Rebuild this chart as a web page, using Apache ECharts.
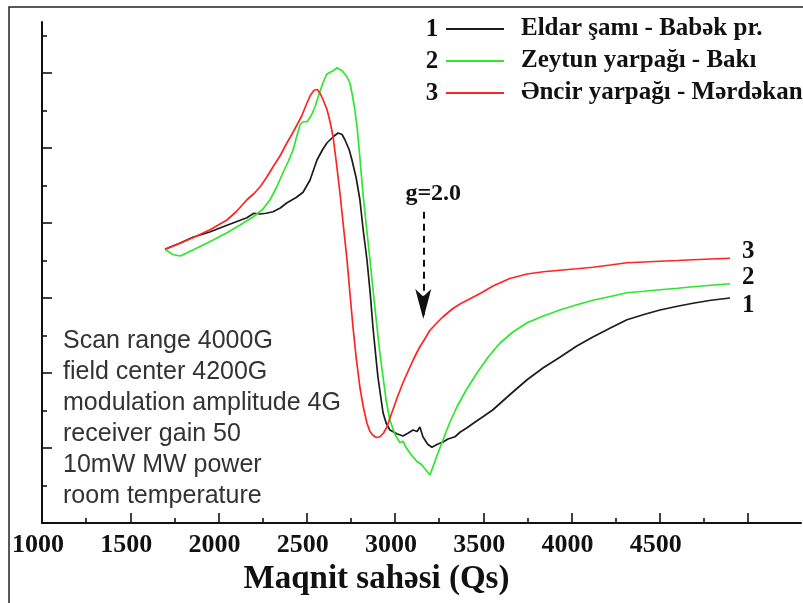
<!DOCTYPE html>
<html>
<head>
<meta charset="utf-8">
<script src="https://cdn.jsdelivr.net/npm/echarts@6/dist/echarts.min.js"></script>
<style>
  html, body { margin: 0; padding: 0; background: #fff; }
  #chart { width: 803px; height: 603px; }
</style>
</head>
<body>
<div id="chart"></div>
<script>
// EPR spectra: magnetic field (Qs) vs. signal (arbitrary units)
const seriesNames = ['Eldar şamı - Babək pr.', 'Zeytun yarpağı - Bakı', 'Əncir yarpağı - Mərdəkan'];
const seriesNumbers = ['1', '2', '3'];
const seriesColors = ['#1c1c1c', '#2ee62e', '#ff2424'];

// 1 - Eldar şamı
const eldarSami = [
  [1697, 3.65], [1780, 3.73], [1855, 3.81], [1950, 3.88], [2048, 3.97], [2161, 4.07], [2200, 4.13],
  [2235, 4.12], [2270, 4.13], [2309, 4.15], [2350, 4.20], [2388, 4.27], [2440, 4.34], [2479, 4.41],
  [2518, 4.57], [2558, 4.84], [2590, 4.98], [2615, 5.07], [2650, 5.15], [2677, 5.20], [2700, 5.18],
  [2716, 5.11], [2740, 4.98], [2756, 4.84], [2780, 4.60], [2801, 4.31], [2820, 3.90], [2841, 3.51],
  [2860, 3.05], [2875, 2.61], [2890, 2.25], [2903, 1.95], [2918, 1.70], [2932, 1.47], [2950, 1.33],
  [2971, 1.24], [3010, 1.19], [3045, 1.16], [3075, 1.20], [3102, 1.24], [3125, 1.22], [3141, 1.28],
  [3158, 1.15], [3185, 1.05], [3209, 1.01], [3240, 1.05], [3272, 1.08], [3300, 1.12], [3340, 1.15],
  [3368, 1.21], [3408, 1.27], [3450, 1.34], [3500, 1.42], [3555, 1.51], [3650, 1.71], [3748, 1.91],
  [3840, 2.07], [3934, 2.21], [4030, 2.36], [4121, 2.48], [4220, 2.60], [4314, 2.71], [4410, 2.78],
  [4501, 2.84], [4600, 2.89], [4688, 2.93], [4790, 2.97], [4898, 3.00]
];

// 2 - Zeytun yarpağı
const zeytunYarpagi = [
  [1697, 3.65], [1740, 3.58], [1782, 3.56], [1820, 3.60], [1855, 3.64], [1950, 3.75], [2048, 3.87],
  [2120, 3.97], [2195, 4.08], [2250, 4.18], [2292, 4.31], [2330, 4.48], [2365, 4.67], [2395, 4.82],
  [2422, 4.97], [2445, 5.17], [2462, 5.31], [2480, 5.35], [2501, 5.35], [2525, 5.43], [2547, 5.55],
  [2570, 5.72], [2592, 5.87], [2612, 5.98], [2632, 6.01], [2650, 6.03], [2671, 6.07], [2700, 6.03],
  [2728, 5.95], [2745, 5.86], [2756, 5.73], [2770, 5.55], [2785, 5.28], [2800, 4.90], [2818, 4.40],
  [2838, 3.95], [2858, 3.51], [2878, 3.05], [2898, 2.61], [2915, 2.25], [2932, 1.95], [2950, 1.63],
  [2971, 1.37], [3000, 1.18], [3028, 1.07], [3045, 1.09], [3062, 1.01], [3085, 0.93], [3110, 0.86],
  [3124, 0.82], [3150, 0.78], [3170, 0.72], [3198, 0.64], [3235, 0.88], [3272, 1.11], [3310, 1.34],
  [3351, 1.55], [3400, 1.76], [3464, 2.00], [3530, 2.22], [3595, 2.40], [3670, 2.55], [3748, 2.67],
  [3840, 2.76], [3934, 2.84], [4030, 2.91], [4121, 2.97], [4220, 3.02], [4314, 3.07], [4410, 3.09],
  [4501, 3.11], [4600, 3.13], [4688, 3.15], [4790, 3.17], [4898, 3.19]
];

// 3 - Əncir yarpağı
const encirYarpagi = [
  [1697, 3.65], [1782, 3.73], [1870, 3.82], [1952, 3.91], [2048, 4.04], [2100, 4.15], [2161, 4.31],
  [2200, 4.39], [2235, 4.48], [2270, 4.60], [2309, 4.75], [2350, 4.90], [2388, 5.07], [2420, 5.20],
  [2445, 5.31], [2470, 5.42], [2501, 5.60], [2520, 5.70], [2541, 5.77], [2560, 5.78], [2575, 5.73],
  [2595, 5.63], [2615, 5.51], [2632, 5.35], [2649, 5.15], [2668, 4.80], [2688, 4.40], [2708, 3.95],
  [2728, 3.51], [2745, 3.05], [2762, 2.61], [2780, 2.20], [2801, 1.81], [2820, 1.55], [2841, 1.33],
  [2858, 1.22], [2875, 1.17], [2895, 1.14], [2915, 1.15], [2935, 1.20], [2954, 1.28], [2970, 1.39],
  [2988, 1.51], [3015, 1.69], [3045, 1.87], [3075, 2.03], [3102, 2.17], [3125, 2.28], [3141, 2.35],
  [3152, 2.33], [3165, 2.44], [3198, 2.57], [3238, 2.67], [3272, 2.75], [3328, 2.86], [3368, 2.92],
  [3425, 2.99], [3490, 3.07], [3555, 3.16], [3650, 3.26], [3748, 3.32], [3840, 3.35], [3934, 3.37],
  [4030, 3.39], [4121, 3.41], [4220, 3.44], [4314, 3.47], [4410, 3.48], [4501, 3.49], [4600, 3.50],
  [4688, 3.51], [4790, 3.52], [4898, 3.53]
];

const xTickLabels = [1000, 1500, 2000, 2500, 3000, 3500, 4000, 4500];
const xMajorTicks = [1000, 1500, 2000, 2500, 3000, 3500, 4000, 4500, 5000];
const xMinorTicks = [1250, 1750, 2250, 2750, 3250, 3750, 4250, 4750];
const yMajorTicks = [0, 1, 2, 3, 4, 5, 6];
const yMinorTicks = [0.5, 1.5, 2.5, 3.5, 4.5, 5.5, 6.5];

// g-factor marker
const gLabel = 'g=2.0';
const gField = 3160;
const gArrowFrom = 4.15;
const gArrowTo = 2.72;

// measurement conditions
const conditions = [
  'Scan range 4000G',
  'field center 4200G',
  'modulation amplitude 4G',
  'receiver gain 50',
  '10mW MW power',
  'room temperature'
];

const serif = 'Liberation Serif';
const sans = 'Liberation Sans';
const ink = '#111';

const endLabelOffsets = [[0, 8], [0, -6], [0, -7]];

function makeSeries(i, data) {
  return {
    name: seriesNames[i],
    type: 'line',
    xAxisIndex: 0,
    yAxisIndex: 0,
    data: data,
    symbol: 'none',
    legendIcon: 'rect',
    smooth: false,
    lineStyle: { color: seriesColors[i], width: 1.7 },
    itemStyle: { color: seriesColors[i] },
    endLabel: {
      show: true,
      formatter: seriesNumbers[i],
      distance: 12,
      offset: endLabelOffsets[i],
      fontFamily: serif,
      fontWeight: 'bold',
      fontSize: 25,
      color: ink
    }
  };
}

const series = [
  makeSeries(0, eldarSami),
  makeSeries(1, zeytunYarpagi),
  makeSeries(2, encirYarpagi)
];

// dashed arrow pointing at g=2.0
series[2].markLine = {
  silent: true,
  symbol: ['none', 'arrow'],
  symbolSize: [12, 30],
  lineStyle: { color: ink, type: [7, 5], width: 2 },
  label: {
    show: true,
    position: 'start',
    formatter: gLabel,
    distance: 6,
    padding: [0, 0, 0, 20],
    fontFamily: serif,
    fontWeight: 'bold',
    fontSize: 24,
    color: ink
  },
  data: [[{ coord: [gField, gArrowFrom] }, { coord: [gField, gArrowTo] }]]
};

const gridBox = { left: 42, right: 2, top: 22, bottom: 80 };
const xRange = { min: 1000, max: 5300 };
const yRange = { min: 0, max: 6.68 };
const tickLine = { color: ink, width: 1.6 };

const chart = echarts.init(document.getElementById('chart'), null, { renderer: 'canvas' });

const option = {
  backgroundColor: '#ffffff',
  animation: false,
  grid: [
    Object.assign({}, gridBox),   // plotting area, major ticks
    Object.assign({}, gridBox)    // same box, minor ticks only
  ],
  xAxis: [
    {
      type: 'value', gridIndex: 0, min: xRange.min, max: xRange.max, interval: 500,
      axisLine: { show: true, lineStyle: { color: ink, width: 2 } },
      axisTick: { show: true, inside: true, length: 10, customValues: xMajorTicks, lineStyle: tickLine },
      splitLine: { show: false },
      axisLabel: {
        show: true,
        showMaxLabel: false,
        margin: 9,
        padding: [0, 8, 0, 0],
        fontFamily: serif,
        fontWeight: 'bold',
        fontSize: 26,
        color: ink,
        formatter: function (v) { return xTickLabels.indexOf(v) >= 0 ? String(v) : ''; }
      },
      name: 'Maqnit sahəsi (Qs)',
      nameLocation: 'middle',
      nameGap: 36,
      nameTextStyle: {
        fontFamily: serif, fontWeight: 'bold', fontSize: 33, color: ink,
        padding: [0, 90, 0, 0]
      }
    },
    {
      type: 'value', gridIndex: 1, min: xRange.min, max: xRange.max, interval: 500,
      axisLine: { show: false },
      axisTick: { show: true, inside: true, length: 5, customValues: xMinorTicks, lineStyle: tickLine },
      axisLabel: { show: false },
      splitLine: { show: false }
    }
  ],
  yAxis: [
    {
      type: 'value', gridIndex: 0, min: yRange.min, max: yRange.max, interval: 1,
      axisLine: { show: true, lineStyle: { color: ink, width: 2 } },
      axisTick: { show: true, inside: true, length: 10, customValues: yMajorTicks, lineStyle: tickLine },
      axisLabel: { show: false },
      splitLine: { show: false }
    },
    {
      type: 'value', gridIndex: 1, min: yRange.min, max: yRange.max, interval: 1,
      axisLine: { show: false },
      axisTick: { show: true, inside: true, length: 5, customValues: yMinorTicks, lineStyle: tickLine },
      axisLabel: { show: false },
      splitLine: { show: false }
    }
  ],
  legend: {
    orient: 'vertical',
    left: 445,
    top: 16,
    padding: 0,
    itemWidth: 58,
    itemHeight: 2,
    itemGap: 6,
    selectedMode: false,
    data: seriesNames,
    textStyle: {
      fontFamily: serif,
      fontWeight: 'bold',
      fontSize: 25,
      lineHeight: 26,
      color: ink,
      padding: [0, 0, 0, 12]
    }
  },
  graphic: [
    // outer frame of the figure
    {
      type: 'rect', silent: true, z: 0,
      shape: { x: 9, y: 7, width: 830, height: 630 },
      style: { fill: 'none', stroke: '#222', lineWidth: 1.5 }
    },
    // legend numbers
    ...seriesNumbers.map(function (n, i) {
      return {
        type: 'text', silent: true,
        x: 432, y: 30 + i * 32,
        style: {
          text: n, fontFamily: serif, fontWeight: 'bold', fontSize: 25,
          fill: ink, align: 'center', verticalAlign: 'middle'
        }
      };
    }),
    // measurement conditions
    {
      type: 'text', silent: true,
      x: 63, y: 326,
      style: {
        text: conditions.join('\n'),
        fontFamily: sans, fontSize: 25, lineHeight: 31,
        fill: '#333', align: 'left', verticalAlign: 'top'
      }
    }
  ],
  series: series
};

chart.setOption(option);
</script>
</body>
</html>
